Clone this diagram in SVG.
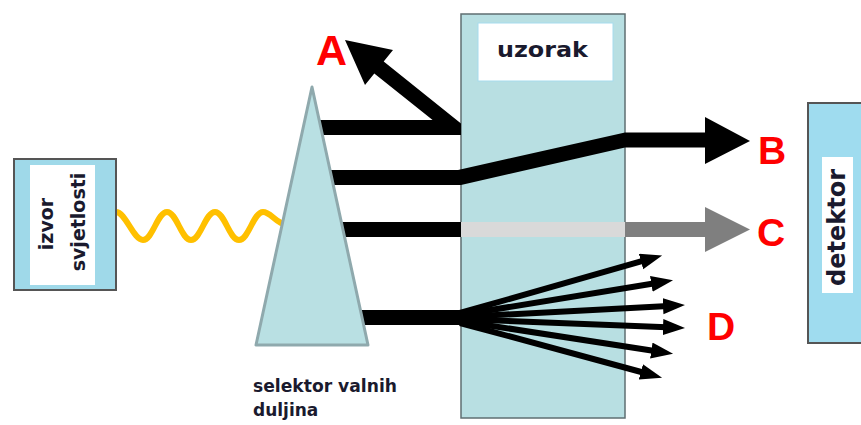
<svg xmlns="http://www.w3.org/2000/svg" width="861" height="425" viewBox="0 0 861 425">
<defs>
<style>
.lbl{font-family:"Liberation Sans",Arial,sans-serif;font-weight:bold;fill:#ff0000;}
.txt{font-family:"DejaVu Sans","Liberation Sans",sans-serif;font-weight:bold;fill:#1a1a2e;}
.beam{fill:#000;}
.fan{stroke:#000;stroke-width:6;fill:none;marker-end:url(#head);}
</style>
<marker id="head" markerUnits="userSpaceOnUse" markerWidth="24" markerHeight="18" refX="10" refY="8" orient="auto">
<path d="M0,0 L22,8 L0,16 Z" fill="#000"/>
</marker>
</defs>
<rect x="0" y="0" width="861" height="425" fill="#fff"/>

<g id="sample">
<rect x="461" y="14" width="164" height="404" fill="#b8dfe2" stroke="#5f6f72" stroke-width="1.5"/>
<rect x="478" y="23" width="135" height="58" fill="#fff" stroke="#a6dced" stroke-width="1"/>
<text class="txt" x="497" y="57" font-size="22" textLength="91" lengthAdjust="spacingAndGlyphs">uzorak</text>
</g>

<g id="connectors">
<path d="M116,212 C125.6,212 133.4,240 143,240 C152.6,240 157.4,212 167,212 C176.6,212 181.4,240 191,240 C200.6,240 205.4,212 215,212 C224.6,212 229.4,240 239,240 C248.6,240 253.4,212 263,212 C272,212 276,226 292,225" fill="none" stroke="#ffc000" stroke-width="6"/>
<polygon class="beam" points="310,120 432.6,120 374.3,73.4 365,85 345,40 393,50 383.7,61.6 461,123.4 461,135 310,135"/>
<polygon class="beam" points="310,170 458,170 625,132.5 705,132.5 705,117 750,141 705,164 705,147.5 625,147.5 461,185 310,185"/>
<rect class="beam" x="310" y="222" width="151" height="15"/>
<rect x="461" y="222" width="164" height="15" fill="#d9d9d9"/>
<polygon points="625,222 705,222 705,207 750,229.5 705,252 705,237 625,237" fill="#7f7f7f"/>
<rect class="beam" x="330" y="310" width="133" height="15"/>
<line class="fan" x1="460" y1="313" x2="650.6" y2="258.7"/>
<line class="fan" x1="460" y1="315" x2="661.2" y2="282.2"/>
<line class="fan" x1="460" y1="317" x2="673" y2="305.7"/>
<line class="fan" x1="460" y1="319" x2="673" y2="327.5"/>
<line class="fan" x1="460" y1="321" x2="661.2" y2="352"/>
<line class="fan" x1="460" y1="323" x2="650.5" y2="374.5"/>
</g>

<g id="prism">
<polygon points="312,87 256,345 368,345" fill="#b9e0e3" stroke="#8fa9ad" stroke-width="3" stroke-linejoin="round"/>
<text class="txt" x="253" y="392" font-size="17" textLength="144" lengthAdjust="spacingAndGlyphs">selektor valnih</text>
<text class="txt" x="253" y="416" font-size="17">duljina</text>
</g>

<g id="source">
<rect x="14" y="159" width="102" height="131" fill="#9fd9e9" stroke="#555" stroke-width="2"/>
<rect x="30" y="165" width="65" height="120" fill="#fff"/>
<text class="txt" font-size="19" text-anchor="middle" transform="translate(53,224) rotate(-90)">izvor</text>
<text class="txt" font-size="19" text-anchor="middle" transform="translate(85,222) rotate(-90)">svjetlosti</text>
</g>

<g id="detector">
<rect x="808" y="103" width="60" height="240" fill="#9fdcef" stroke="#555" stroke-width="2"/>
<rect x="822" y="157" width="31" height="136" fill="#fff"/>
<text class="txt" font-size="24" text-anchor="middle" transform="translate(845,227.5) rotate(-90)">detektor</text>
</g>

<g id="labels">
<text class="lbl" x="316" y="65" font-size="43">A</text>
<text class="lbl" x="758" y="164" font-size="39">B</text>
<text class="lbl" x="757" y="246" font-size="39">C</text>
<text class="lbl" x="707" y="340" font-size="39">D</text>
</g>
</svg>
